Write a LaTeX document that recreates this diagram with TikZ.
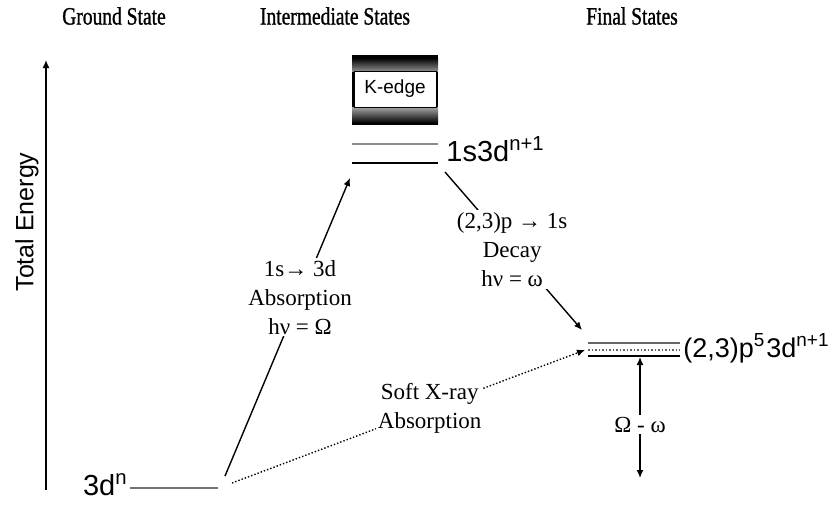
\documentclass[tikz,border=0pt]{standalone}
\usepackage{fontspec}
\setmainfont{Liberation Serif}
\setsansfont{Liberation Sans}
\newfontfamily\hdrfont[FakeStretch=0.78, FakeBold=1]{Liberation Serif}
\usetikzlibrary{arrows.meta}

\begin{document}
\begin{tikzpicture}[x=0.5pt, y=-0.5pt,
  hdr/.style={font=\hdrfont\fontsize{12.5}{14}\selectfont},
  note/.style={fill=white, align=center, inner sep=1pt, font=\fontsize{11.5}{14.5}\selectfont},
  lab/.style={font=\sffamily\fontsize{14.5}{16}\selectfont, inner sep=0pt},
  lvl/.style={line width=1pt},
  arr/.style={line width=0.7pt, -{Latex[length=4pt, width=3.5pt]}}]
\useasboundingbox (0,0) rectangle (839,509);
% column headers
\node[hdr] (gs) at (114,16) {Ground State};
\node[hdr] (is) at (335,16) {Intermediate States};
\node[hdr] (fs) at (632,16) {Final States};
% energy axis
\coordinate (ax0) at (46,490);
\coordinate (ax1) at (46,60);
\draw[arr] (ax0) -- (ax1);
\node[rotate=90, font=\sffamily\fontsize{12.5}{14}\selectfont] (te) at (27,222) {Total Energy};
% ground state
\coordinate (g0) at (130,488);
\coordinate (g1) at (218,488);
\draw[lvl, black!55] (g0) -- (g1);
\node[lab, anchor=base east] (gl) at (128,495) {3d\textsuperscript{n}};
% intermediate states
\fill[black] (352,55) rectangle (438,125);
\shade[top color=black, bottom color=black!45] (352,58) rectangle (438,71);
\shade[top color=black!35, bottom color=black] (352,107) rectangle (438,123);
\node[draw=black, fill=white, minimum width=41pt, minimum height=18pt, inner sep=0pt,
  font=\sffamily\fontsize{9.5}{11}\selectfont] (ke) at (395,89) {K-edge};
\coordinate (i0) at (352,144);
\coordinate (i1) at (438,144);
\coordinate (i2) at (352,163);
\coordinate (i3) at (438,163);
\draw[lvl, black!45] (i0) -- (i1);
\draw[lvl] (i2) -- (i3);
\node[lab, anchor=base west] (il) at (446,161) {1s3d\textsuperscript{n+1}};
% final states
\coordinate (f0) at (588,343);
\coordinate (f1) at (680,343);
\coordinate (f2) at (588,350);
\coordinate (f3) at (680,350);
\coordinate (f4) at (588,356);
\coordinate (f5) at (680,356);
\draw[line width=0.75pt, black!60] (f0) -- (f1);
\draw[line width=0.75pt, densely dotted, black!60] (f2) -- (f3);
\draw[line width=0.75pt] (f4) -- (f5);
\node[lab, anchor=base west, font=\sffamily\fontsize{13.5}{16}\selectfont] (fl) at (683,357) {(2,3)p\textsuperscript{5}\kern0.5pt 3d\textsuperscript{n+1}};
% transitions
\coordinate (a0) at (225,476);
\coordinate (a1) at (350,178);
\draw[arr] (a0) -- node[note, pos=0.6] (abs) {1s→ 3d\\Absorption\\hν = Ω} (a1);
\coordinate (d0) at (445,172);
\coordinate (d1) at (582,330);
\draw[arr] (d0) -- node[note, pos=0.49] (dec) {(2,3)p → 1s\\Decay\\hν = ω} (d1);
\coordinate (s0) at (232,483);
\coordinate (s1) at (585,350);
\draw[arr, densely dotted] (s0) -- node[note, pos=0.56] (sxr) {Soft X-ray\\Absorption} (s1);
\coordinate (w0) at (640,357);
\coordinate (w1) at (640,478);
\draw[line width=0.7pt, {Latex[length=4pt, width=3.5pt]}-{Latex[length=4pt, width=3.5pt]}] (w1) -- node[note, pos=0.44] (om) {Ω - ω} (w0);
\end{tikzpicture}
\end{document}
